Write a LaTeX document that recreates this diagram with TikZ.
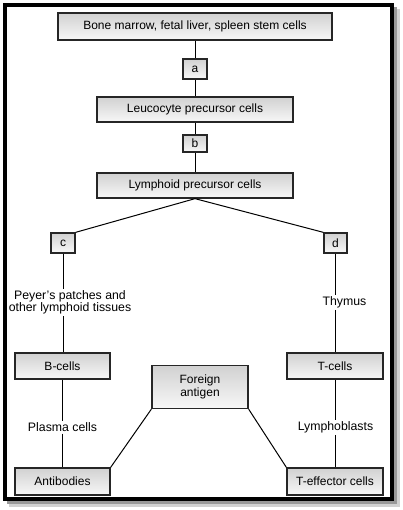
\documentclass[tikz,border=0pt]{standalone}
\usepackage{fontspec}
\setmainfont{Liberation Sans}
\begin{document}
\begin{tikzpicture}[x=1pt,y=-1pt,
  box/.style={draw=black!85,line width=1.3pt,top color=black!18,bottom color=black!3,
    inner sep=0pt,font=\fontsize{12}{13.5}\selectfont,align=center},
  lbl/.style={fill=white,inner sep=1.5pt,font=\fontsize{12.3}{12.5}\selectfont,align=center},
  conn/.style={line width=1pt,black}]
\useasboundingbox (0,0) rectangle (403,510);
% shadow
\fill[black!18] (9,9) rectangle (400,507);
\fill[black!40] (7,7) rectangle (397,504);
% frame
\draw[line width=4.5pt,fill=white] (5,5) rectangle (392,499);
% boxes
\node[box,minimum width=274,minimum height=27] (top) at (195,26.5) {Bone marrow, fetal liver, spleen stem cells};
\node[box,minimum width=24,minimum height=20] (a) at (195,69) {a};
\node[box,minimum width=196,minimum height=25] (leu) at (195,109.5) {Leucocyte precursor cells};
\node[box,minimum width=24,minimum height=17] (b) at (195,143.5) {b};
\node[box,minimum width=196,minimum height=25] (lym) at (195,185.5) {Lymphoid precursor cells};
\node[box,minimum width=24,minimum height=20] (c) at (63,243) {c};
\node[box,minimum width=23,minimum height=20] (d) at (335.5,243) {d};
\node[box,minimum width=95,minimum height=26] (bc) at (62.5,366) {B-cells};
\node[box,minimum width=96,minimum height=26] (tc) at (335,366) {T-cells};
\node[box,minimum width=96,minimum height=43] (fa) at (200,387) {Foreign\\[-1pt]antigen};
\node[box,minimum width=95,minimum height=27] (ab) at (62.5,481.5) {Antibodies};
\node[box,minimum width=96,minimum height=27] (te) at (335,481.5) {T-effector cells};
% labels
\node[lbl] (pp) at (70,302.5) {Peyer's patches and\\other lymphoid tissues};
\node[lbl] (th) at (344.5,302.5) {Thymus};
\node[lbl] (pc) at (62.5,427.5) {Plasma cells};
\node[lbl] (lb) at (335.5,427.5) {Lymphoblasts};
% connectors
\draw[conn] (top.south) -- (a.north);
\draw[conn] (a.south) -- (leu.north);
\draw[conn] (leu.south) -- (b.north);
\draw[conn] (b.south) -- (lym.north);
\draw[conn] (lym.south) -- (c.north east);
\draw[conn] (lym.south) -- (d.north west);
\draw[conn] (c.south) -- (c.south |- pp.north);
\draw[conn] (c.south |- pp.south) -- (bc.north -| c.south);
\draw[conn] (d.south) -- (d.south |- th.north);
\draw[conn] (d.south |- th.south) -- (tc.north -| d.south);
\draw[conn] (bc.south) -- (pc.north);
\draw[conn] (pc.south) -- (ab.north);
\draw[conn] (tc.south) -- (lb.north -| tc.south);
\draw[conn] (lb.south -| tc.south) -- (te.north);
\draw[conn] (fa.south west) -- (ab.north east);
\draw[conn] (fa.south east) -- (te.north west);
\end{tikzpicture}
\end{document}
